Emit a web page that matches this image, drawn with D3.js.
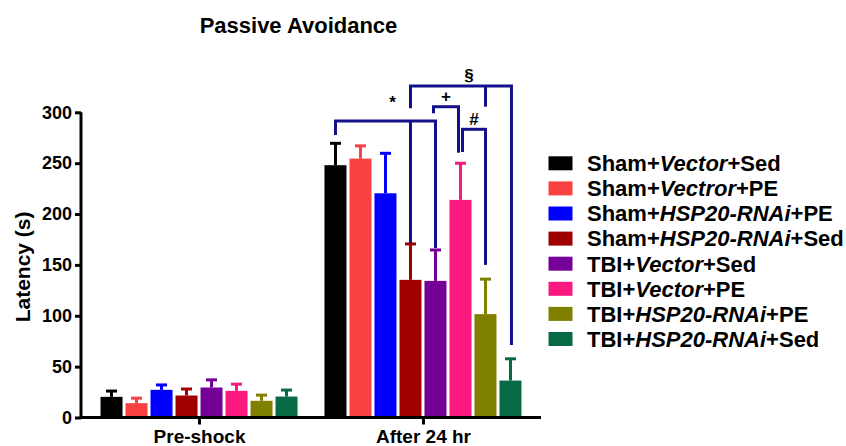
<!DOCTYPE html>
<html><head><meta charset="utf-8">
<script src="https://cdn.jsdelivr.net/npm/d3@7"></script>
<style>
body{margin:0;background:#fff;}
text{font-family:"Liberation Sans",Arial,Helvetica,sans-serif;font-weight:bold;}
</style></head>
<body><svg id="c" width="846" height="446"></svg>
<script>
const groups = ["Pre-shock", "After 24 hr"];
const seriesNames = [
  ["Sham+", "Vector", "+Sed"],
  ["Sham+", "Vectror", "+PE"],
  ["Sham+", "HSP20-RNAi", "+PE"],
  ["Sham+", "HSP20-RNAi", "+Sed"],
  ["TBI+", "Vector", "+Sed"],
  ["TBI+", "Vector", "+PE"],
  ["TBI+", "HSP20-RNAi", "+PE"],
  ["TBI+", "HSP20-RNAi", "+Sed"]
];
const colors = ["#000000", "#f94141", "#0000ff", "#a00000", "#750097", "#f9197f", "#808000", "#066b45"];
const preShock = [20.3, 14.1, 27.2, 21.6, 29.5, 26.2, 16.4, 20.6];
const preShockErr = [5.7, 4.9, 4.8, 6.4, 7.5, 6.6, 5.6, 6.4];
const after24 = [248, 254.5, 220.4, 135.3, 134.3, 213.9, 101.6, 36.3];
const after24Err = [21.5, 12.5, 39.3, 35.3, 30.4, 36, 34.4, 21.4];
const yTicks = [0, 50, 100, 150, 200, 250, 300];
// significance brackets (group 1): horizontal level and legs (series index, bottom value)
const brackets = [
  {label: "*", level: 291.4, ldx: 7, ldy: 13, legs: [{s: 0, bottom: 277.7, dx: 0}, {s: 3, bottom: 171.5, dx: 0}, {s: 4, bottom: 166.6, dx: 0}]},
  {label: "§", level: 325.8, ldx: 8, ldy: 5, legs: [{s: 3, bottom: 304, dx: 0}, {s: 6, bottom: 305.5, dx: 0}, {s: 7, bottom: 71.3, dx: 1}]},
  {label: "+", level: 305.5, ldx: 0, ldy: 5, legs: [{s: 4, bottom: 299, dx: -2}, {s: 5, bottom: 260.3, dx: -2}]},
  {label: "#", level: 283.3, ldx: 0, ldy: 4, legs: [{s: 5, bottom: 261, dx: 2}, {s: 6, bottom: 150, dx: 0}]}
];

const values = [preShock, after24];
const errors = [preShockErr, after24Err];

const svg = d3.select("#c");
const x0 = d3.scalePoint().domain(groups).range([81, 541]).padding(0.527);
const x1 = d3.scaleBand().domain(d3.range(seriesNames.length)).range([-100, 100]).paddingInner(0.12).paddingOuter(0.06);
const y = d3.scaleLinear().domain([0, 300]).range([417.5, 112.3]);

// bars
groups.forEach((g, gi) => {
  const gSel = svg.append("g").attr("transform", `translate(${x0(g)},0)`);
  values[gi].forEach((v, i) => {
    const cx = x1(i) + x1.bandwidth() / 2;
    const top = v + errors[gi][i];
    gSel.append("line").attr("x1", cx).attr("x2", cx).attr("y1", y(v)).attr("y2", y(top))
      .attr("stroke", colors[i]).attr("stroke-width", 3);
    gSel.append("line").attr("x1", cx - 5.5).attr("x2", cx + 5.5).attr("y1", y(top)).attr("y2", y(top))
      .attr("stroke", colors[i]).attr("stroke-width", 3);
    gSel.append("rect").attr("x", x1(i)).attr("width", x1.bandwidth())
      .attr("y", y(v)).attr("height", y(0) - y(v)).attr("fill", colors[i]);
  });
});

// axes
const yAxis = d3.axisLeft(y).tickValues(yTicks).tickSize(6).tickPadding(3);
const ya = svg.append("g").attr("transform", "translate(81,0)").call(yAxis);
ya.select(".domain").attr("stroke-width", 3).attr("d", `M0,${y(0)+1.5}V${y(300)}`);
ya.selectAll(".tick line").attr("stroke-width", 3);
ya.selectAll(".tick text").attr("font-size", 18).attr("font-weight", "bold")
  .attr("font-family", "Liberation Sans, Arial, sans-serif").attr("fill", "#000");

const xAxis = d3.axisBottom(x0).tickSize(7).tickPadding(5);
const xa = svg.append("g").attr("transform", `translate(0,${y(0)})`).call(xAxis);
xa.select(".domain").attr("stroke-width", 3).attr("d", "M79.5,0H541");
xa.selectAll(".tick line").attr("stroke-width", 3);
xa.selectAll(".tick text").attr("font-size", 19).attr("font-weight", "bold")
  .attr("font-family", "Liberation Sans, Arial, sans-serif").attr("fill", "#000");

// axis title
svg.append("text").attr("transform", `translate(30,${(y(0)+y(300))/2+2}) rotate(-90)`)
  .attr("text-anchor", "middle").attr("font-size", 21).text("Latency (s)");

// title
svg.append("text").attr("x", 298.5).attr("y", 33).attr("text-anchor", "middle")
  .attr("font-size", 22).text("Passive Avoidance");

// brackets
const bx = (s) => x0(groups[1]) + x1(s) + x1.bandwidth() / 2;
const bColor = "#13128c";
brackets.forEach(b => {
  const xs = b.legs.map(l => bx(l.s) + l.dx);
  const xl = d3.min(xs), xr = d3.max(xs);
  svg.append("line").attr("x1", xl - 1.5).attr("x2", xr + 1.5).attr("y1", y(b.level)).attr("y2", y(b.level))
    .attr("stroke", bColor).attr("stroke-width", 3);
  b.legs.forEach((l, k) => {
    svg.append("line").attr("x1", xs[k]).attr("x2", xs[k]).attr("y1", y(b.level)).attr("y2", y(l.bottom))
      .attr("stroke", bColor).attr("stroke-width", 3);
  });
  svg.append("text").attr("x", (xl + xr) / 2 + b.ldx).attr("y", y(b.level) - b.ldy)
    .attr("text-anchor", "middle").attr("font-size", 17).text(b.label);
});

// legend
const lg = svg.append("g");
seriesNames.forEach((parts, i) => {
  const cy = 163.3 + i * 25.1;
  lg.append("rect").attr("x", 548.5).attr("y", cy - 7).attr("width", 24).attr("height", 14).attr("fill", colors[i]);
  const t = lg.append("text").attr("x", 587).attr("y", cy + 7.8).attr("font-size", 22);
  t.append("tspan").text(parts[0]);
  t.append("tspan").attr("font-style", "italic").text(parts[1]);
  t.append("tspan").text(parts[2]);
});
</script></body></html>
